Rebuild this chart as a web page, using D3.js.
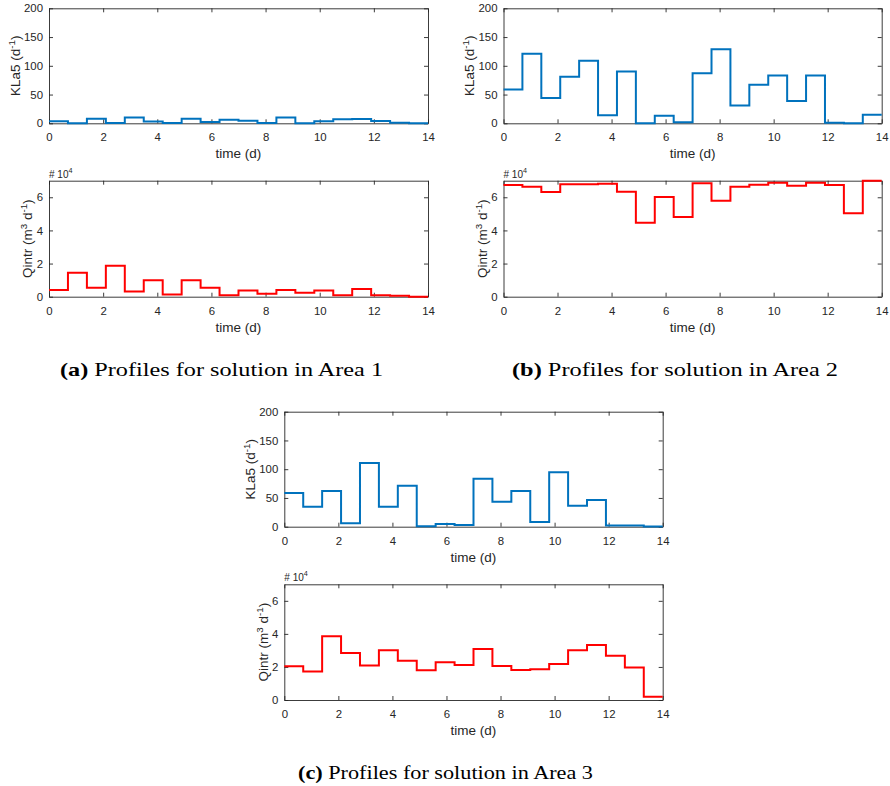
<!DOCTYPE html>
<html lang="en">
<head>
<meta charset="UTF-8">
<title>Profiles for solutions in Areas 1-3</title>
<script src="https://d3js.org/d3.v7.min.js"></script>
<style>
    body { margin: 0; background: #fff; }
    svg text { font-family: "Liberation Sans", Arial, Helvetica, sans-serif; fill: #262626; }
    .tick text { font-size: 11.4px; }
    text.axlabel { font-size: 13.5px; }
    text.expo { font-size: 10px; }
    text.caption { font-family: "Liberation Serif", "Times New Roman", serif; font-size: 19px; fill: #000; }
</style>
</head>
<body>
<svg id="fig" width="890" height="786"></svg>
<script>
    // start of each of the 20 control intervals (d), horizon ends at 14 d
    const stepTimes = [0, 0.7, 1.4, 2.1, 2.8, 3.5, 4.2, 4.9, 5.6, 6.3,
                       7.0, 7.7, 8.4, 9.1, 9.8, 10.5, 11.2, 11.9, 12.6, 13.3];
    const endTime = 14;

    const timeTicks = [0, 2, 4, 6, 8, 10, 12, 14];
    const klaTicks = [0, 50, 100, 150, 200];
    const qintrTicks = [0, 2, 4, 6];          // in units of 10^4

    // Area 1
    const kla5Area1 = [3.5, 0, 8, 0.5, 10, 3, 0.5, 8, 2.3, 6,
                       4.6, 0.5, 10, 0, 3.5, 7, 7.5, 4, 1, 0];
    const qintrArea1 = [0.40, 1.45, 0.54, 1.87, 0.32, 1.00, 0.14, 0.99, 0.54, 0.08,
                        0.38, 0.18, 0.40, 0.24, 0.38, 0.08, 0.46, 0.08, 0.06, 0.0];
    // Area 2
    const kla5Area2 = [59, 121, 44, 81, 109, 14, 90, 0, 13, 2,
                       87, 129, 31, 67, 83, 39, 83, 1, 0, 15];
    const qintrArea2 = [6.74, 6.64, 6.32, 6.78, 6.78, 6.82, 6.34, 4.47, 6.02, 4.81,
                        6.84, 5.79, 6.64, 6.76, 6.88, 6.70, 6.88, 6.74, 5.03, 7.0];
    // Area 3
    const kla5Area3 = [58.6, 34.8, 62, 5.8, 110.7, 34.8, 71.3, 1, 4.6, 3,
                       83.5, 43.5, 62, 8, 94.5, 36.5, 46.4, 2, 2, 0.3];
    const qintrArea3 = [2.04, 1.72, 3.86, 2.85, 2.08, 3.01, 2.38, 1.80, 2.28, 2.12,
                        3.09, 2.06, 1.82, 1.86, 2.18, 3.01, 3.33, 2.67, 1.96, 0.2];

    const captionTags = ["(a)", "(b)", "(c)"];
    const captionTexts = ["Profiles for solution in Area 1",
                          "Profiles for solution in Area 2",
                          "Profiles for solution in Area 3"];

    const klaColor = "#0072BD";
    const qColor = "#FF0000";

    const fig = d3.select("#fig");

    function addLabel(sel, parts) {
        // parts: [text, isSuperscript]
        parts.forEach(([t, sup], i) => {
            const prevSup = i > 0 && parts[i - 1][1];
            const ts = sel.append("tspan").text(t);
            if (sup) ts.attr("dy", -5).attr("font-size", "0.72em");
            else if (prevSup) ts.attr("dy", 5);
        });
    }

    function drawPanel(box, yMax, yTicks, values, color, labelParts, labelOffset, exponent) {
        const x = d3.scaleLinear().domain([0, endTime]).range([box.x0, box.x1]);
        const y = d3.scaleLinear().domain([0, yMax]).range([box.y1, box.y0]);
        const g = fig.append("g");

        g.append("g").attr("transform", `translate(0,${box.y1})`)
            .call(d3.axisBottom(x).tickValues(timeTicks).tickFormat(d3.format("d"))
                .tickSize(-4).tickSizeOuter(0).tickPadding(10));
        g.append("g").attr("transform", `translate(0,${box.y0})`)
            .call(d3.axisTop(x).tickValues(timeTicks).tickSize(-4).tickSizeOuter(0).tickFormat(""));
        g.append("g").attr("transform", `translate(${box.x0},0)`)
            .call(d3.axisLeft(y).tickValues(yTicks).tickFormat(d3.format("d"))
                .tickSize(-4).tickSizeOuter(0).tickPadding(6));
        g.append("g").attr("transform", `translate(${box.x1},0)`)
            .call(d3.axisRight(y).tickValues(yTicks).tickSize(-4).tickSizeOuter(0).tickFormat(""));
        g.selectAll(".domain, .tick line").attr("stroke", "#262626").attr("stroke-width", 0.9);

        let pts = values.map((v, i) => [stepTimes[i], v]);
        pts.push([endTime, values[values.length - 1]]);
        g.append("path")
            .datum(pts)
            .attr("fill", "none")
            .attr("stroke", color)
            .attr("stroke-width", 2)
            .attr("d", d3.line().x(d => x(d[0])).y(d => y(d[1])).curve(d3.curveStepAfter));

        g.append("text")
            .attr("class", "axlabel")
            .attr("x", (box.x0 + box.x1) / 2)
            .attr("y", box.y1 + 35)
            .attr("text-anchor", "middle")
            .text("time (d)");

        let yl = g.append("text")
            .attr("class", "axlabel")
            .attr("transform", `translate(${box.x0 - labelOffset},${(box.y0 + box.y1) / 2}) rotate(-90)`)
            .attr("text-anchor", "middle")
            .attr("dy", "0.35em");
        addLabel(yl, labelParts);

        if (exponent) {
            let ex = g.append("text")
                .attr("class", "expo")
                .attr("x", box.x0)
                .attr("y", box.y0 - 3);
            addLabel(ex, [["# 10", false], ["4", true]]);
        }
    }

    const klaLabel = [["KLa5 (d", false], ["-1", true], [")", false]];
    const qLabel = [["Qintr (m", false], ["3", true], [" d", false], ["-1", true], [")", false]];

    const panels = [
        {top: {x0: 49, x1: 428, y0: 8.3, y1: 123.3}, bot: {x0: 49, x1: 428, y0: 180.7, y1: 296.7},
         kla: kla5Area1, q: qintrArea1, cap: {x: 221.5, y: 376, w: 323}},
        {top: {x0: 503.5, x1: 881.7, y0: 8.3, y1: 123.3}, bot: {x0: 503.5, x1: 881.7, y0: 180.7, y1: 296.7},
         kla: kla5Area2, q: qintrArea2, cap: {x: 675, y: 376, w: 326}},
        {top: {x0: 284.3, x1: 662.7, y0: 411.7, y1: 526.7}, bot: {x0: 284.3, x1: 662.7, y0: 584.3, y1: 700},
         kla: kla5Area3, q: qintrArea3, cap: {x: 445.5, y: 779, w: 295}}
    ];

    panels.forEach((p, i) => {
        drawPanel(p.top, 200, klaTicks, p.kla, klaColor, klaLabel, 34, false);
        drawPanel(p.bot, 7, qintrTicks, p.q, qColor, qLabel, 21.5, true);

        let cap = fig.append("text")
            .attr("class", "caption")
            .attr("x", p.cap.x)
            .attr("y", p.cap.y)
            .attr("text-anchor", "middle")
            .attr("textLength", p.cap.w)
            .attr("lengthAdjust", "spacingAndGlyphs");
        cap.append("tspan").attr("font-weight", "bold").text(captionTags[i]);
        cap.append("tspan").text(" " + captionTexts[i]);
    });
</script>
</body>
</html>
